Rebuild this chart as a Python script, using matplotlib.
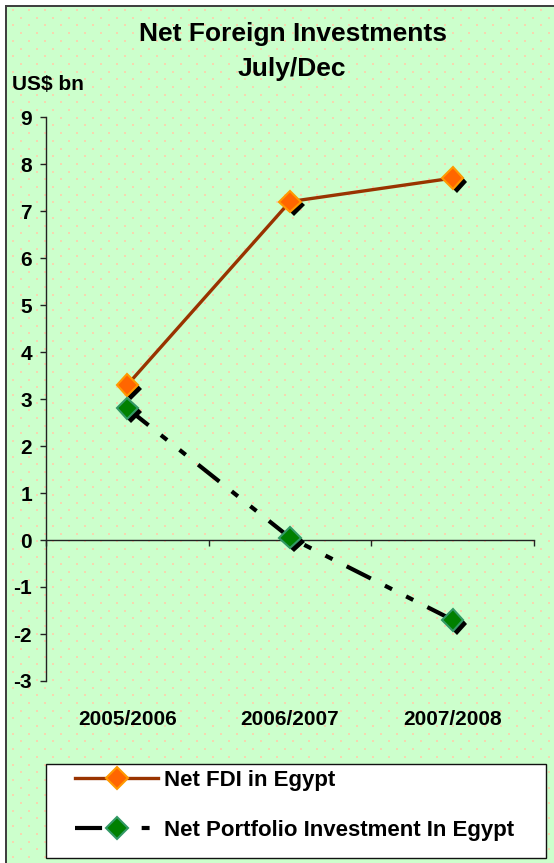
import numpy as np
import matplotlib
matplotlib.use('Agg')
import matplotlib.pyplot as plt
import matplotlib.patheffects as pe
from matplotlib.patches import Rectangle
from matplotlib.lines import Line2D

# ---- data ----
categories = ['2005/2006', '2006/2007', '2007/2008']
fdi = [3.3, 7.2, 7.7]
portfolio = [2.8, 0.05, -1.7]
series_labels = ['Net FDI in Egypt', 'Net Portfolio Investment In Egypt']
yticks = list(range(-3, 10))
title_lines = ['Net Foreign Investments', 'July/Dec']
y_unit = 'US$ bn'

plt.rcParams['font.family'] = ['Liberation Sans', 'DejaVu Sans']
plt.rcParams['font.weight'] = 'bold'

W, H = 554, 863
fig = plt.figure(figsize=(W / 100, H / 100), dpi=100)

# ---- background: light green with peach dot pattern, dark border ----
bg = np.ones((H, W, 3))
green = np.array([0xCC, 0xFF, 0xCC]) / 255
peach = np.array([0xF6, 0xD6, 0xB0]) / 255
bg[6:, 6:] = green
for r, yy in enumerate(np.arange(9, H, 7.7)):
    yi = int(round(yy))
    off = 0 if r % 2 == 0 else 8
    for xx in range(12 + off, W, 16):
        bg[yi:yi + 2, xx:xx + 2] = peach
dark = np.array([0x40, 0x40, 0x40]) / 255
bg[5:7, 5:] = dark
bg[5:, 5:7] = dark
fig.figimage(bg, 0, 0, zorder=-5)

# ---- axes ----
ax = fig.add_axes([46 / W, 1 - 681 / H, (534 - 46) / W, (681 - 117) / H])
ax.set_zorder(2)
ax.patch.set_alpha(0)
ax.set_xlim(0, len(categories))
ax.set_ylim(min(yticks), max(yticks))
x = np.arange(len(categories)) + 0.5

for s in ['top', 'right']:
    ax.spines[s].set_visible(False)
ax.spines['bottom'].set_position(('data', 0))
for s in ['bottom', 'left']:
    ax.spines[s].set_color('#222222')
    ax.spines[s].set_linewidth(1.0)

ax.set_xticks(np.arange(len(categories) + 1))
ax.set_xticklabels([])
ax.tick_params(axis='x', direction='out', length=4, width=1, color='#222222')
ax.set_yticks(yticks)
ax.set_yticklabels([str(t) for t in yticks])
ax.tick_params(axis='y', direction='out', length=4, width=1, color='#222222',
               labelsize=15, pad=6)

sec = ax.secondary_xaxis(0)
sec.set_xticks(x)
sec.set_xticklabels(categories)
sec.tick_params(length=0, pad=21, labelsize=15)
sec.spines['bottom'].set_visible(False)

shadow = [pe.SimplePatchShadow(offset=(2.8, -2.8), shadow_rgbFace='k', alpha=1.0), pe.Normal()]

l1, = ax.plot(x, fdi, color='#993300', lw=2.4, zorder=3)
m1, = ax.plot(x, fdi, ls='none', marker='D', ms=11, mfc='#FF6600', mec='#FF9900',
              mew=1.5, path_effects=shadow, zorder=5)
l2, = ax.plot(x, portfolio, color='k', lw=3,
              ls=(0, (6.5, 3.8, 1.9, 3.8, 1.9, 3.8)), zorder=3)
m2, = ax.plot(x, portfolio, ls='none', marker='D', ms=11, mfc='#008000', mec='#339966',
              mew=1.5, path_effects=shadow, zorder=5)

# ---- titles ----
fig.text(293 / W, 1 - 34 / H, title_lines[0], ha='center', va='center', fontsize=19)
fig.text(292 / W, 1 - 69 / H, title_lines[1], ha='center', va='center', fontsize=19)
fig.text(12 / W, 1 - 85 / H, y_unit, ha='left', va='center', fontsize=15)

# ---- legend ----
fig.add_artist(Rectangle((46 / W, 1 - 858 / H), 500 / W, 94 / H, transform=fig.transFigure,
                         fc='white', ec='#111111', lw=1.0, zorder=3))
leg = fig.legend([(l1, m1), (l2, m2)], series_labels, loc='upper left',
                 bbox_to_anchor=(75 / W, 1 - 770 / H), borderpad=0, borderaxespad=0,
                 frameon=False, fontsize=16, handlelength=3.75, handletextpad=0.25,
                 labelspacing=1.29)
leg.set_zorder(6)
for ln in leg.findobj(Line2D):
    ln.set_path_effects([])

fig.savefig('out.png', dpi=100)
